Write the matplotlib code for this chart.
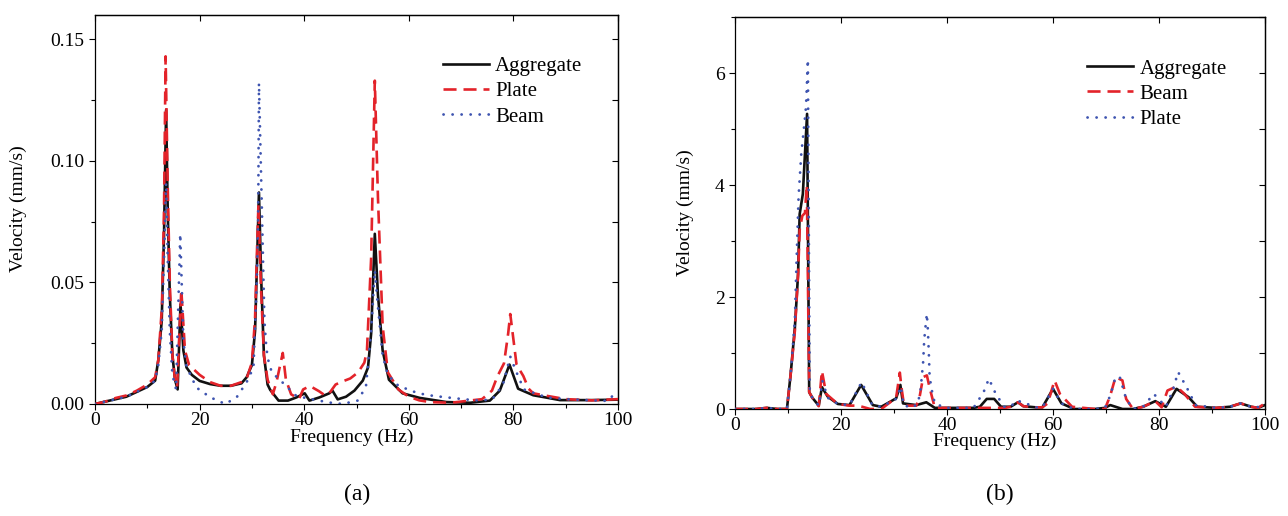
import numpy as np
import matplotlib
matplotlib.use("Agg")
import matplotlib.pyplot as plt
from matplotlib.ticker import MultipleLocator

plt.rcParams['font.family'] = ['Liberation Serif', 'DejaVu Serif']
plt.rcParams['lines.scale_dashes'] = False

# ---------------- Panel (a) data ----------------
freq_a_agg = [0, 2, 4, 6, 8, 10, 11.5, 12.1, 12.75, 13.2, 13.6, 13.9, 14.3, 14.8, 15.3, 15.8,
              16.35, 16.9, 17.5, 18.5, 20, 22, 24, 26, 28, 29, 30, 30.6, 31.0, 31.35, 31.8,
              32.3, 33, 33.5, 35.1, 36.9, 38.5, 40.1, 41.0, 42.9, 44.8, 45.4, 46.4, 48, 49.6,
              51.2, 52.2, 52.8, 53.5, 54.1, 55, 56.2, 58.8, 62.1, 67.2, 71.7, 75.5, 77.4,
              79.25, 80.9, 83.8, 86.4, 88.9, 95, 100]
vel_a_agg = [0, 0.001, 0.002, 0.003, 0.005, 0.007, 0.0096, 0.018, 0.034, 0.07, 0.121, 0.08,
             0.045, 0.02, 0.01, 0.006, 0.041, 0.022, 0.015, 0.012, 0.0095, 0.0082, 0.0075,
             0.0075, 0.0085, 0.011, 0.016, 0.03, 0.06, 0.087, 0.05, 0.02, 0.008, 0.0058,
             0.0014, 0.0014, 0.0027, 0.0044, 0.0014, 0.0027, 0.0044, 0.0055, 0.0019, 0.003,
             0.0055, 0.0096, 0.015, 0.029, 0.070, 0.045, 0.022, 0.01, 0.0044, 0.0025, 0.0008,
             0.0005, 0.0014, 0.0055, 0.0162, 0.0063, 0.0036, 0.0026, 0.0016, 0.0016, 0.0018]

freq_a_plate = [0, 2, 4, 6, 8, 10, 11.5, 12.1, 12.8, 13.2, 13.5, 13.9, 14.3, 14.8, 15.3, 15.7,
                16.5, 17.2, 18, 19, 20, 22, 24, 26, 28, 29, 30, 30.6, 31.0, 31.25, 31.7, 32.3,
                33, 34, 34.7, 35.9, 36.5, 37.5, 39, 39.8, 41.1, 42.8, 44, 45, 46, 47, 48.8,
                50.3, 51.5, 52, 52.8, 53.5, 54.1, 55, 56, 58, 60, 62, 64, 68, 70, 72, 74,
                75.9, 76.9, 78.2, 79.0, 79.4, 80.6, 81.9, 82.9, 83.8, 86, 90, 95, 100]
vel_a_plate = [0, 0.001, 0.0025, 0.0035, 0.0055, 0.008, 0.011, 0.018, 0.04, 0.08, 0.143, 0.09,
               0.05, 0.02, 0.01, 0.007, 0.047, 0.022, 0.016, 0.014, 0.012, 0.009, 0.0075, 0.0075,
               0.009, 0.0105, 0.017, 0.035, 0.065, 0.082, 0.05, 0.02, 0.01, 0.004, 0.009, 0.021,
               0.01, 0.004, 0.002, 0.006, 0.0074, 0.0053, 0.0035, 0.005, 0.008, 0.009, 0.0105,
               0.013, 0.017, 0.022, 0.06, 0.133, 0.085, 0.032, 0.013, 0.006, 0.003, 0.0015,
               0.0008, 0.0005, 0.001, 0.0015, 0.002, 0.0055, 0.0112, 0.0167, 0.029, 0.037,
               0.0162, 0.0115, 0.0063, 0.0044, 0.0035, 0.002, 0.0015, 0.002]

freq_a_beam = [0, 2, 4, 6, 8, 10, 11.5, 12.1, 12.75, 13.2, 13.6, 13.9, 14.3, 14.8, 15.5, 16.3,
               16.9, 17.5, 18.5, 19.3, 22, 24.9, 27.1, 29.0, 30.3, 30.9, 31.2, 31.35, 31.8,
               32.1, 32.4, 32.7, 33, 33.8, 35.5, 38.5, 41.6, 44.8, 47.3, 50.2, 51.8, 52.8,
               53.5, 54.1, 55, 56, 58, 61.8, 64.8, 70.8, 73.6, 76, 78, 79.4, 80.4, 82, 86.4,
               90, 95, 98, 100]
vel_a_beam = [0, 0.001, 0.002, 0.003, 0.005, 0.007, 0.0096, 0.016, 0.03, 0.06, 0.091, 0.06,
              0.03, 0.012, 0.006, 0.070, 0.026, 0.015, 0.011, 0.0069, 0.0028, 0.0, 0.0028, 0.009,
              0.015, 0.048, 0.076, 0.132, 0.09, 0.062, 0.034, 0.025, 0.019, 0.013, 0.0096,
              0.0033, 0.0019, 0.0006, 0.0, 0.0014, 0.007, 0.03, 0.055, 0.04, 0.02, 0.012,
              0.0075, 0.0044, 0.0033, 0.0019, 0.0014, 0.002, 0.008, 0.0195, 0.014, 0.006,
              0.0027, 0.002, 0.0015, 0.0013, 0.0055]

# ---------------- Panel (b) data ----------------
freq_b_agg = [0, 2, 4, 6, 8, 9.8, 10.5, 11.3, 11.9, 12.2, 12.8, 13.6, 14.0, 14.6, 15.8, 16.4,
              17.5, 19.4, 21.6, 23.8, 26.0, 27.6, 30.4, 31.2, 31.7, 34.2, 36.1, 37.7, 39.7,
              45, 46.2, 47.5, 48.9, 50.2, 52, 53.4, 54.4, 56.7, 58, 60, 61.6, 64, 67.9, 69.8,
              70.8, 73.1, 75.1, 77, 79.3, 81.3, 83.3, 85.6, 87.2, 90.8, 93.4, 95.4, 97.4,
              98.7, 100]
vel_b_agg = [0, 0, 0, 0.02, 0, 0, 0.62, 1.46, 2.41, 3.48, 3.84, 5.27, 0.3, 0.2, 0.06, 0.39,
             0.22, 0.09, 0.07, 0.43, 0.07, 0.04, 0.19, 0.43, 0.1, 0.07, 0.12, 0.02, 0.02, 0.02,
             0.04, 0.18, 0.18, 0.04, 0.04, 0.12, 0.05, 0.03, 0.03, 0.36, 0.1, 0.0, 0.0, 0.02,
             0.07, 0.0, 0.0, 0.04, 0.14, 0.04, 0.36, 0.21, 0.04, 0.02, 0.04, 0.1, 0.04, 0.02,
             0.07]

freq_b_beam = [0, 2, 4, 6, 8, 9.8, 10.5, 11.3, 11.9, 12.2, 12.7, 13.2, 13.55, 14.0, 14.6,
               15.8, 16.4, 17.2, 19.4, 21.6, 23, 24, 25.5, 27.6, 30.4, 31.1, 31.4, 31.9, 34.2,
               34.8, 35.5, 36.2, 36.7, 37.7, 39.7, 45, 51, 52, 53.4, 54.4, 56.7, 58, 59.0,
               60.3, 61.3, 63.6, 67.9, 69.8, 70.8, 71.8, 73.1, 73.8, 75.1, 77, 79.3, 80.5,
               81.6, 83.3, 84.8, 86.8, 90.8, 93.4, 95.4, 97.4, 98.7, 100]
vel_b_beam = [0, 0, 0, 0.02, 0, 0, 0.62, 1.4, 2.4, 3.2, 3.45, 3.5, 4.0, 0.3, 0.2, 0.05, 0.68,
              0.27, 0.09, 0.06, 0.06, 0.04, 0.0, 0.0, 0.2, 0.65, 0.39, 0.06, 0.06, 0.2, 0.57,
              0.6, 0.39, 0.02, 0.02, 0.02, 0.02, 0.04, 0.12, 0.05, 0.03, 0.03, 0.1, 0.51, 0.27,
              0.04, 0.0, 0.0, 0.24, 0.57, 0.51, 0.18, 0.0, 0.04, 0.14, 0.03, 0.33, 0.4, 0.27,
              0.04, 0.02, 0.04, 0.1, 0.04, 0.02, 0.1]

freq_b_plate = [0, 2, 4, 6, 8, 9.8, 10.5, 11.3, 11.6, 12.0, 12.5, 13.1, 13.4, 13.75, 14.1,
                14.6, 15.8, 16.5, 17.5, 19.4, 21.6, 23.9, 25.9, 27.6, 30.4, 31.3, 31.8, 33.4,
                34.5, 35.0, 35.5, 35.7, 35.9, 36.2, 36.4, 36.6, 36.7, 37.0, 37.7, 39.7, 45,
                46.9, 47.9, 49.2, 50.8, 52, 53.1, 54.4, 56.7, 58, 60, 61.6, 64, 67.9, 69.8,
                70.8, 71.8, 72.6, 73.8, 75.1, 77, 79.0, 81.3, 82.6, 83.6, 85.2, 86.9, 90.8,
                93.4, 95.4, 97.4, 100]
vel_b_plate = [0, 0, 0, 0.02, 0, 0, 0.62, 1.6, 2.6, 3.8, 4.55, 5.1, 5.4, 6.24, 0.3, 0.2, 0.06,
               0.5, 0.2, 0.09, 0.07, 0.48, 0.07, 0.04, 0.18, 0.4, 0.07, 0.02, 0.1, 0.33, 0.84,
               1.23, 1.43, 1.7, 1.4, 0.93, 0.63, 0.39, 0.1, 0.02, 0.02, 0.3, 0.54, 0.27, 0.04,
               0.04, 0.15, 0.12, 0.03, 0.03, 0.36, 0.1, 0.0, 0.0, 0.02, 0.24, 0.57, 0.57, 0.18,
               0.0, 0.04, 0.27, 0.04, 0.33, 0.66, 0.39, 0.07, 0.02, 0.04, 0.1, 0.04, 0.03]

labels_a = ["Aggregate", "Plate", "Beam"]
labels_b = ["Aggregate", "Beam", "Plate"]
xticks = [0, 20, 40, 60, 80, 100]
yticks_a = [0.00, 0.05, 0.10, 0.15]
yticks_b = [0, 2, 4, 6]

BLACK = "#111111"
RED = "#E3232A"
BLUE = "#3E54B0"

W, H = 1288, 516
fig = plt.figure(figsize=(W / 100, H / 100), dpi=100)

def box(l, t, r, b):
    return [l / W, 1 - b / H, (r - l) / W, (b - t) / H]

ax_a = fig.add_axes(box(95, 15, 618, 404))
ax_b = fig.add_axes(box(735, 17, 1265, 409))

lw = 1.9
dash_style = (0, (9.4, 5.0))
dot_style = (0, (0.1, 6.4))

def style_axes(ax, yticks, ymax, yminor, yfmt):
    ax.set_xlim(0, 100)
    ax.set_ylim(0, ymax)
    ax.set_xticks(xticks)
    ax.set_yticks(yticks)
    ax.set_yticklabels([yfmt.format(v) for v in yticks])
    ax.xaxis.set_minor_locator(MultipleLocator(10))
    ax.yaxis.set_minor_locator(MultipleLocator(yminor))
    ax.tick_params(which='major', direction='out', length=4.5, width=0.8, labelsize=14,
                   pad=3)
    ax.tick_params(axis='x', which='major', pad=1.5)
    ax.tick_params(which='minor', direction='out', length=2.6, width=0.8)
    for s in ax.spines.values():
        s.set_linewidth(0.9)
    top = ax.secondary_xaxis('top')
    top.set_xticks(xticks)
    top.tick_params(direction='in', length=4.5, width=0.8, labeltop=False)
    top.xaxis.set_minor_locator(plt.NullLocator())
    right = ax.secondary_yaxis('right')
    right.set_yticks(np.arange(0, ymax + 1e-9, yminor))
    right.tick_params(direction='in', length=4.5, width=0.8, labelright=False)
    right.yaxis.set_minor_locator(plt.NullLocator())
    top.spines['top'].set_linewidth(0.9)
    right.spines['right'].set_linewidth(0.9)

# Panel (a)
ax_a.plot(freq_a_agg, vel_a_agg, color=BLACK, lw=lw, label=labels_a[0], zorder=3)
ax_a.plot(freq_a_plate, vel_a_plate, color=RED, lw=lw, linestyle=dash_style,
          label=labels_a[1], zorder=4)
ax_a.plot(freq_a_beam, vel_a_beam, color=BLUE, lw=2.0, linestyle=dot_style,
          dash_capstyle='round', label=labels_a[2], zorder=5)
style_axes(ax_a, yticks_a, 0.16, 0.025, "{:.2f}")

# Panel (b)
ax_b.plot(freq_b_agg, vel_b_agg, color=BLACK, lw=lw, label=labels_b[0], zorder=3)
ax_b.plot(freq_b_beam, vel_b_beam, color=RED, lw=lw, linestyle=dash_style,
          label=labels_b[1], zorder=4)
ax_b.plot(freq_b_plate, vel_b_plate, color=BLUE, lw=2.0, linestyle=dot_style,
          dash_capstyle='round', label=labels_b[2], zorder=5)
style_axes(ax_b, yticks_b, 7, 1, "{:d}")

for ax, anchor in ((ax_a, (0.665, 0.893)), (ax_b, (0.665, 0.893))):
    ax.legend(loc='upper left', bbox_to_anchor=anchor, frameon=False, fontsize=15,
              handlelength=2.2, handletextpad=0.3, labelspacing=0.27, borderpad=0,
              borderaxespad=0)

fig.text(18 / W, 1 - 209 / H, "Velocity (mm/s)", rotation=90, ha='center', va='center',
         fontsize=14)
fig.text(685 / W, 1 - 213 / H, "Velocity (mm/s)", rotation=90, ha='center', va='center',
         fontsize=14)
fig.text(352 / W, 1 - 437 / H, "Frequency (Hz)", ha='center', va='center', fontsize=14)
fig.text(995 / W, 1 - 441 / H, "Frequency (Hz)", ha='center', va='center', fontsize=14)
fig.text(357 / W, 1 - 494 / H, "(a)", ha='center', va='center', fontsize=17)
fig.text(1000 / W, 1 - 494 / H, "(b)", ha='center', va='center', fontsize=17)

fig.savefig("out.png", dpi=100)
